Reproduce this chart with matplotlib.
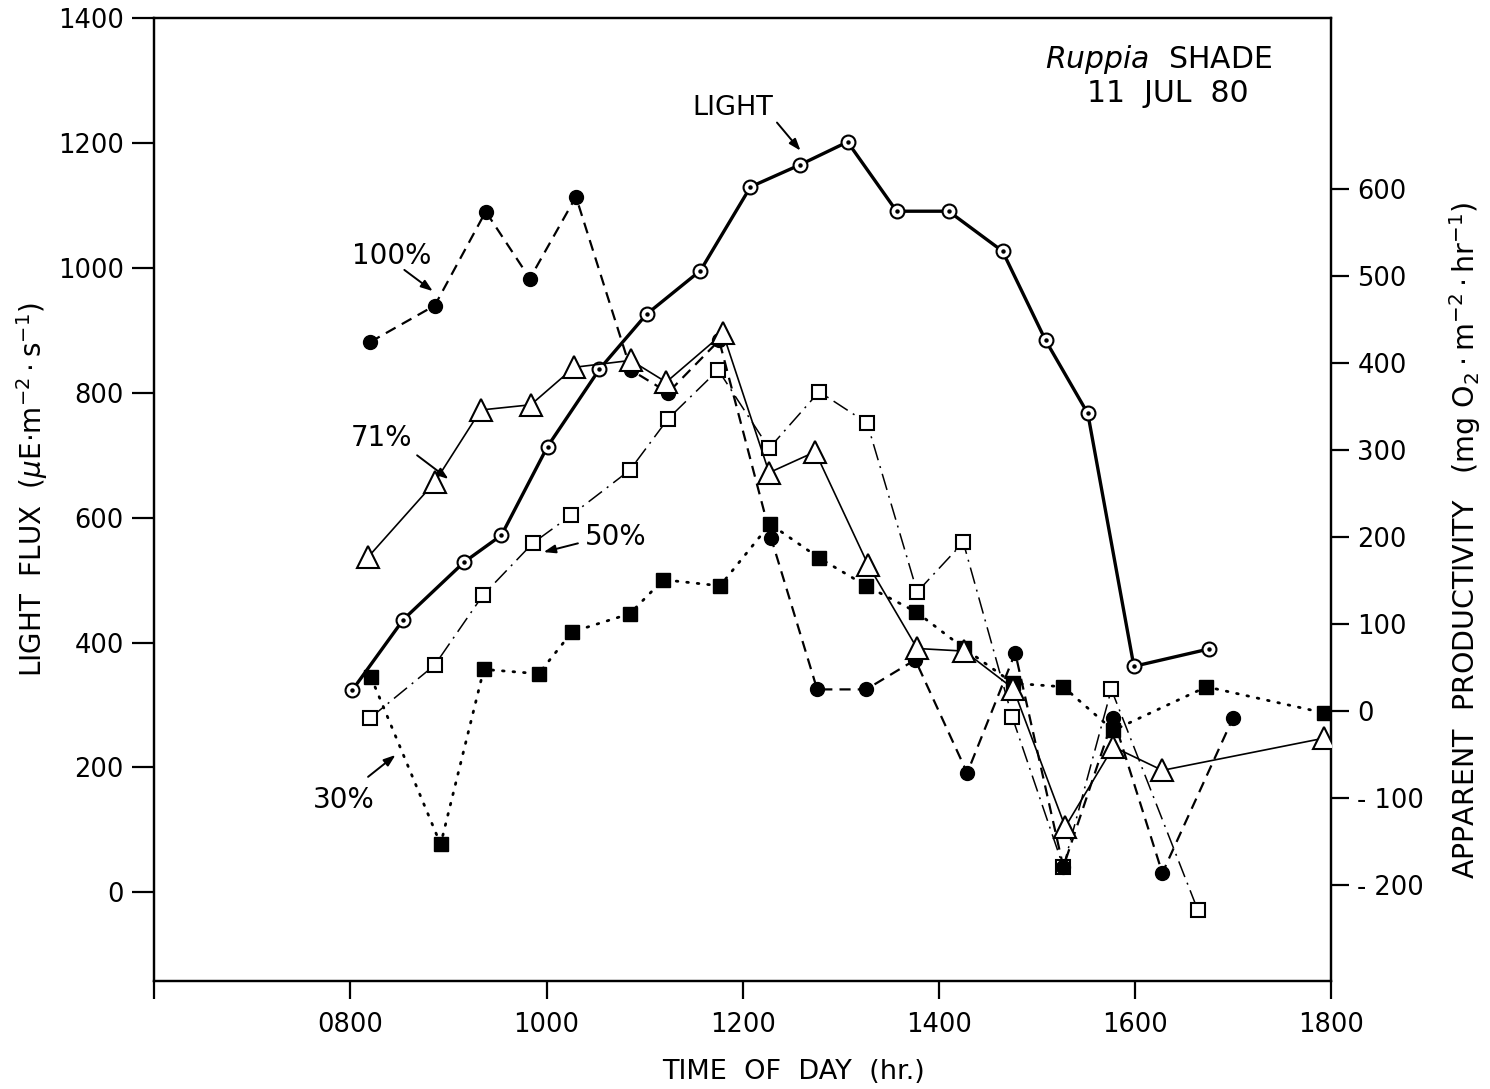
import matplotlib
matplotlib.use("Agg")
import matplotlib.pyplot as plt
from matplotlib.ticker import FixedLocator, FuncFormatter

# ---- data (time of day in decimal hours) ----
time_light = [8.02, 8.54, 9.16, 9.54, 10.01, 10.54, 11.02, 11.57, 12.08, 12.58,
              13.07, 13.57, 14.10, 14.65, 15.09, 15.52, 15.99, 16.76]
light = [324, 437, 529, 572, 714, 838, 926, 996, 1130, 1165,
         1202, 1091, 1091, 1027, 884, 767, 362, 390]

time_100 = [8.20, 8.86, 9.38, 9.83, 10.30, 10.86, 11.24, 11.76, 12.29, 12.76,
            13.26, 13.76, 14.29, 14.78, 15.27, 15.78, 16.28, 17.00]
prod_100 = [424, 466, 574, 497, 591, 392, 366, 426, 199, 25,
            25, 59, -71, 67, -179, -8, -186, -8]

time_71 = [8.18, 8.86, 9.33, 9.84, 10.28, 10.86, 11.22, 11.80, 12.27, 12.74,
           13.28, 13.78, 14.26, 14.76, 15.29, 15.78, 16.28, 17.93]
prod_71 = [177, 263, 346, 352, 395, 403, 378, 434, 274, 298,
           168, 72, 69, 26, -133, -41, -68, -31]

time_50 = [8.20, 8.86, 9.35, 9.86, 10.25, 10.85, 11.24, 11.75, 12.27, 12.78,
           13.27, 13.78, 14.25, 14.75, 15.27, 15.76, 16.64]
prod_50 = [-8, 53, 133, 193, 225, 277, 336, 392, 302, 367,
           331, 137, 194, -7, -179, 25, -228]

time_30 = [8.21, 8.92, 9.36, 9.92, 10.26, 10.85, 11.19, 11.77, 12.28, 12.78,
           13.26, 13.77, 14.26, 14.76, 15.27, 15.78, 16.73, 17.93]
prod_30 = [39, -153, 48, 43, 91, 112, 151, 144, 215, 176,
           144, 114, 72, 32, 28, -22, 28, -2]

x_ticks = [6, 8, 10, 12, 14, 16, 18]
x_tick_labels = ["", "0800", "1000", "1200", "1400", "1600", "1800"]
left_ticks = [0, 200, 400, 600, 800, 1000, 1200, 1400]
right_ticks = [-200, -100, 0, 100, 200, 300, 400, 500, 600]

plt.rcParams["font.family"] = ["DejaVu Sans"]
plt.rcParams["mathtext.fontset"] = "dejavusans"

W, H = 1490, 1089
fig = plt.figure(figsize=(W / 100, H / 100), dpi=100)
ax = fig.add_axes([154.3 / W, 1 - 981 / H, (1331 - 154.3) / W, (981 - 18.3) / H])
ax2 = ax.twinx()

ax.set_xlim(6.0, 18.0)
ax.set_ylim(-142, 1400)
ax2.set_ylim(-310, 796)

for a in (ax, ax2):
    for s in a.spines.values():
        s.set_linewidth(1.6)

# LIGHT (left axis)
ax.plot(time_light, light, "-", color="black", lw=2.4, marker="o", ms=10,
        mfc="white", mec="black", mew=1.5, zorder=5)
ax.plot(time_light, light, linestyle="none", marker="o", ms=2.2, color="black", zorder=6)

# productivity series (right axis)
ax2.plot(time_100, prod_100, color="black", lw=1.6, dashes=(5, 3.2), marker="o", ms=10,
         mfc="black", mec="black", zorder=4)
ax2.plot(time_71, prod_71, "-", color="black", lw=1.2, marker="^", ms=16,
         mfc="white", mec="black", mew=1.5, zorder=4)
ax2.plot(time_50, prod_50, color="black", lw=1.1, dashes=(11, 4, 1.3, 4), marker="s", ms=10,
         mfc="white", mec="black", mew=1.5, zorder=3)
ax2.plot(time_30, prod_30, color="black", lw=2.0, dashes=(0.6, 3.2), dash_capstyle="round",
         marker="s", ms=10, mfc="black", mec="black", zorder=3)

# ticks
ax.xaxis.set_major_locator(FixedLocator(x_ticks))
ax.set_xticklabels(x_tick_labels)
ax.yaxis.set_major_locator(FixedLocator(left_ticks))
ax2.yaxis.set_major_locator(FixedLocator(right_ticks))
ax2.yaxis.set_major_formatter(FuncFormatter(lambda v, p: ("- " if v < 0 else "") + "%d" % abs(v)))

ax.tick_params(axis="x", direction="out", length=13, width=1.6, labelsize=18.5, pad=9)
ax.tick_params(axis="y", direction="out", length=16, width=1.6, labelsize=18.5, pad=6)
ax2.tick_params(axis="y", direction="out", length=13, width=1.6, labelsize=18.5, pad=6)

# axis labels
fig.text(32 / W, 1 - 490 / H, r"LIGHT  FLUX  ($\mu$E$\cdot$m$^{-2}\cdot$s$^{-1}$)",
         rotation=90, ha="center", va="center", fontsize=20)
fig.text(1465 / W, 1 - 540 / H,
         r"APPARENT  PRODUCTIVITY   (mg O$_2\cdot$m$^{-2}\cdot$hr$^{-1}$)",
         rotation=90, ha="center", va="center", fontsize=20.5)
fig.text(793 / W, 1 - 1072 / H, "TIME  OF  DAY  (hr.)", ha="center", va="center",
         fontsize=19.5)

# annotations
arrow = dict(arrowstyle="-|>,head_length=0.7,head_width=0.25", color="black", lw=1.4,
             shrinkA=0, shrinkB=0)
ax.annotate("", xy=(12.59, 1188), xytext=(12.35, 1233), arrowprops=arrow)
ax.text(11.90, 1256, "LIGHT", ha="center", va="center", fontsize=19.5)
ax.annotate("", xy=(8.84, 963), xytext=(8.55, 997), arrowprops=arrow)
ax.text(8.42, 1020, "100%", ha="center", va="center", fontsize=20)
ax.annotate("", xy=(9.00, 662), xytext=(8.68, 700), arrowprops=arrow)
ax.text(8.32, 727, "71%", ha="center", va="center", fontsize=20)
ax.annotate("", xy=(9.97, 545), xytext=(10.32, 559), arrowprops=arrow)
ax.text(10.71, 569, "50%", ha="center", va="center", fontsize=20)
ax.annotate("", xy=(8.46, 220), xytext=(8.18, 185), arrowprops=arrow)
ax.text(7.93, 148, "30%", ha="center", va="center", fontsize=20)

ax.text(16.24, 1334, r"$\it{Ruppia}$  SHADE", ha="center", va="center", fontsize=21.5)
ax.text(16.34, 1280, "11  JUL  80", ha="center", va="center", fontsize=21.5)

fig.savefig("out.png", dpi=100, facecolor="white")
